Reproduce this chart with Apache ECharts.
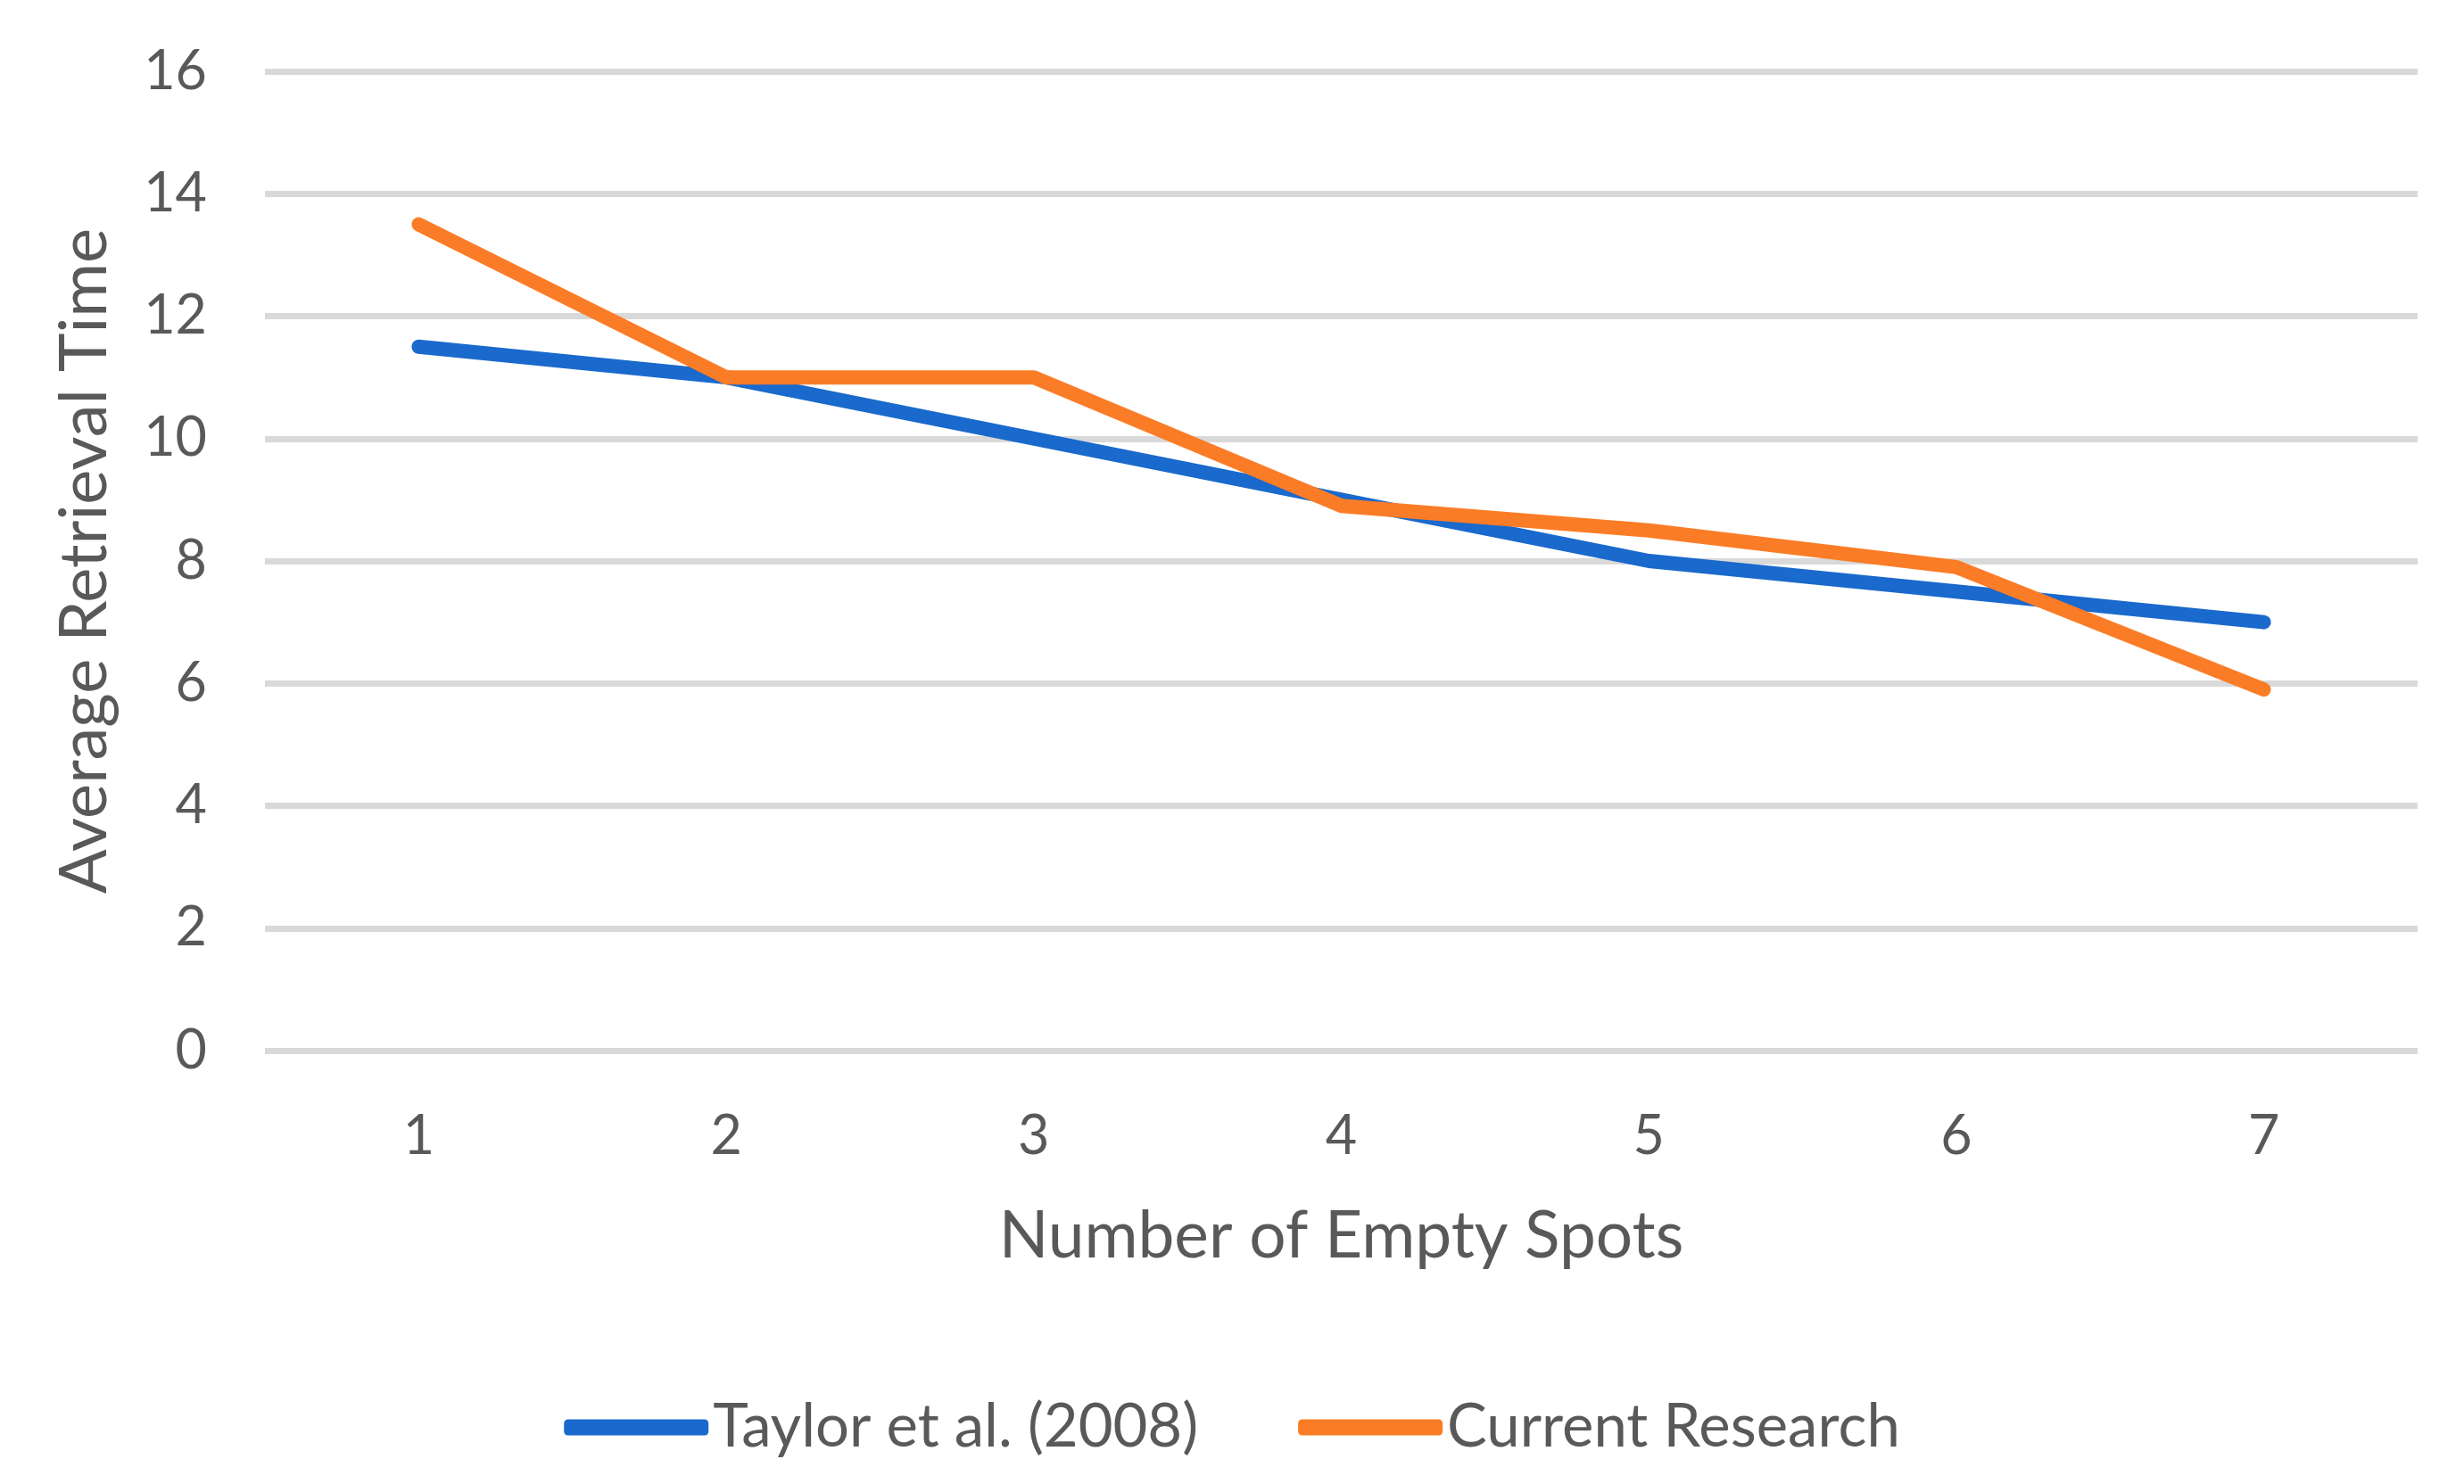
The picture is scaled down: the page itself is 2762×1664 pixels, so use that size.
<!DOCTYPE html>
<html>
<head>
<meta charset="utf-8">
<script src="https://cdn.jsdelivr.net/npm/echarts@6/dist/echarts.min.js"></script>
<style>
html,body{margin:0;padding:0;background:#fff;}
#chart{width:2762px;height:1664px;}
</style>
</head>
<body>
<div id="chart"></div>
<script>
const categories = ['1', '2', '3', '4', '5', '6', '7'];
const taylor = [11.5, 11, 10, 9, 8, 7.5, 7];
const current = [13.5, 11, 11, 8.9, 8.5, 7.9, 5.9];
const seriesNames = ['Taylor et al. (2008)', 'Current Research'];
const xTitle = 'Number of Empty Spots';
const yTitle = 'Average Retrieval Time';

const textColor = '#595959';
const font = 'Lato, "Open Sans", sans-serif';

const chart = echarts.init(document.getElementById('chart'));
chart.setOption({
  backgroundColor: '#ffffff',
  animation: false,
  textStyle: { fontFamily: font },
  grid: { left: 297, right: 52, top: 80, bottom: 486, containLabel: false },
  legend: {
    data: seriesNames,
    left: 'center',
    top: 1562,
    icon: 'roundRect',
    itemWidth: 162,
    itemHeight: 18,
    itemGap: 112,
    textStyle: { color: textColor, fontSize: 67, fontFamily: font, padding: [0, 0, 0, 0] }
  },
  xAxis: {
    type: 'category',
    data: categories,
    boundaryGap: true,
    axisLine: { show: false },
    axisTick: { show: false },
    axisLabel: { color: textColor, fontSize: 61, margin: 66, fontFamily: font },
    name: xTitle,
    nameLocation: 'middle',
    nameGap: 172,
    nameTextStyle: { color: textColor, fontSize: 73, fontFamily: font }
  },
  yAxis: {
    type: 'value',
    min: 0,
    max: 16,
    interval: 2,
    axisLine: { show: false },
    axisTick: { show: false },
    splitLine: { lineStyle: { color: '#d9d9d9', width: 7 } },
    axisLabel: { color: textColor, fontSize: 61, margin: 65, fontFamily: font },
    name: yTitle,
    nameLocation: 'middle',
    nameRotate: 90,
    nameGap: 165,
    nameTextStyle: { color: textColor, fontSize: 74, fontFamily: font }
  },
  series: [
    {
      name: seriesNames[0],
      type: 'line',
      data: taylor,
      symbol: 'none',
      color: '#1a69cc',
      lineStyle: { width: 16, color: '#1a69cc', cap: 'round', join: 'round' }
    },
    {
      name: seriesNames[1],
      type: 'line',
      data: current,
      symbol: 'none',
      color: '#fb7c26',
      lineStyle: { width: 16, color: '#fb7c26', cap: 'round', join: 'round' }
    }
  ]
});
</script>
</body>
</html>
